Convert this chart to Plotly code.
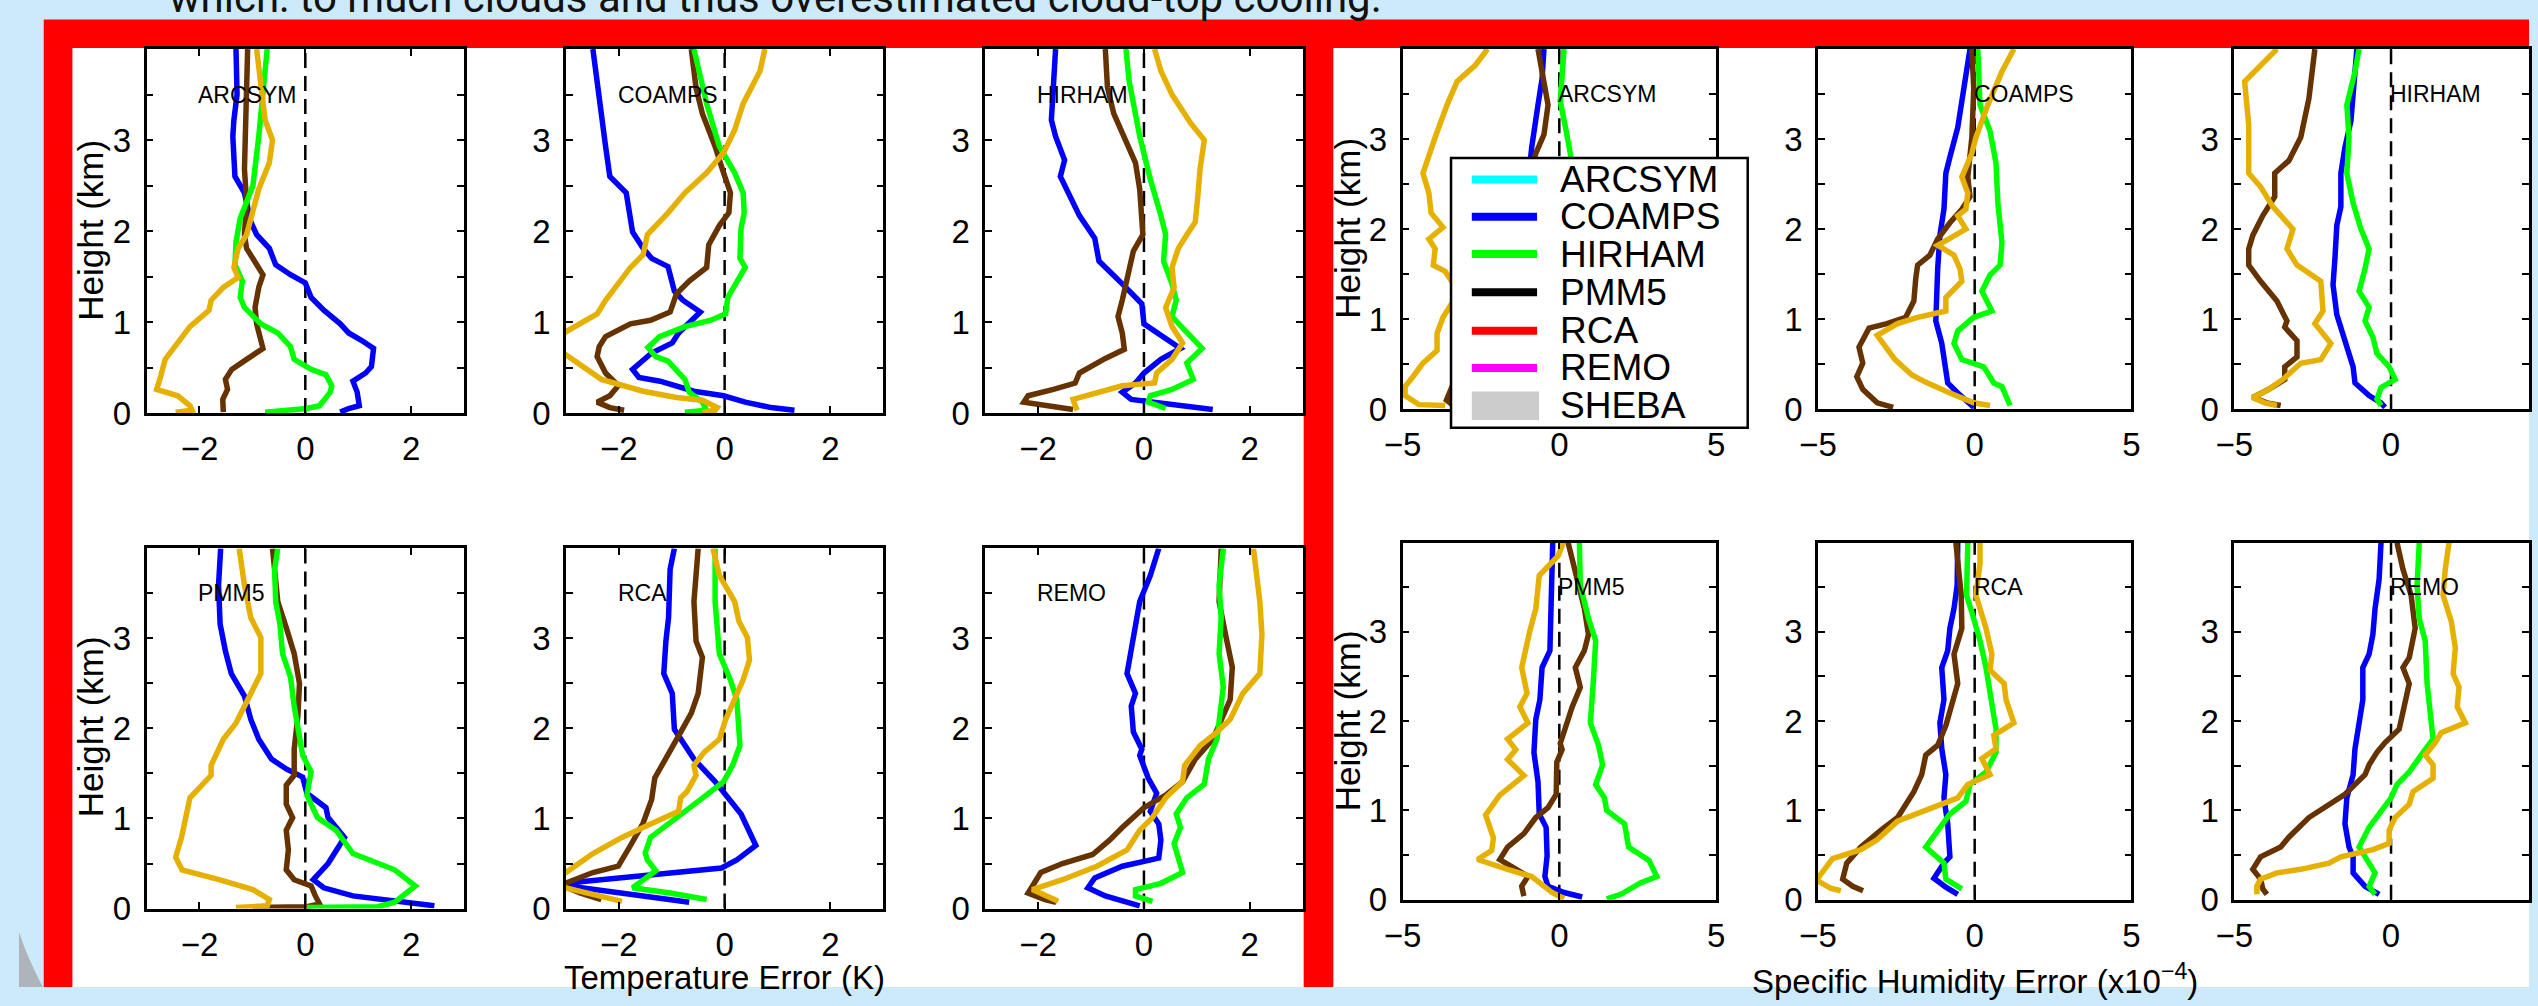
import plotly.graph_objects as go

W, H = 2538, 1006
FONT = "Liberation Sans, Arial, Helvetica, sans-serif"

# ---------------- data ----------------
panel_names_top = ["ARCSYM", "COAMPS", "HIRHAM"]
panel_names_bottom = ["PMM5", "RCA", "REMO"]
series_names = ["blue", "brown", "green", "gold"]
series_colors = ["#0000FF", "#663300", "#00FF00", "#E6B000"]

height_ticks = [0, 0.5, 1, 1.5, 2, 2.5, 3, 3.5]
height_ticktext = ["0", " ", "1", " ", "2", " ", "3", " "]
temp_ticks = [-2, 0, 2]
hum_ticks = [-5, 0, 5]

legend_names = ["ARCSYM", "COAMPS", "HIRHAM", "PMM5", "RCA", "REMO", "SHEBA"]
legend_colors = ["#00FFFF", "#0000FF", "#00FF00", "#000000", "#FF0000", "#FF00FF", "#CCCCCC"]

# Temperature error (K) profiles, (error, height km)
temp_arcsym_blue = [(-1.31,4.0),(-1.29,3.5),(-1.35,3.22),(-1.37,3.04),(-1.33,2.6),(-1.15,2.42),(-1.03,2.1),(-0.92,1.96),(-0.68,1.81),(-0.56,1.63),(-0.28,1.52),(0.0,1.43),(0.11,1.27),(0.35,1.13),(0.66,0.98),(0.82,0.88),(1.06,0.8),(1.29,0.71),(1.25,0.51),(1.14,0.44),(0.9,0.35),(0.98,0.23),(1.02,0.08),(0.82,0.05),(0.66,0.01)]
temp_arcsym_brown = [(-1.09,4.0),(-1.11,3.4),(-1.15,2.68),(-1.11,2.32),(-1.15,1.96),(-1.11,1.81),(-0.95,1.67),(-0.8,1.52),(-0.88,1.38),(-0.95,1.16),(-0.92,0.98),(-0.88,0.88),(-0.8,0.71),(-1.11,0.59),(-1.39,0.48),(-1.51,0.37),(-1.47,0.26),(-1.56,0.15),(-1.55,0.01)]
temp_arcsym_green = [(-0.72,4.0),(-0.8,3.5),(-0.88,3.04),(-0.99,2.5),(-1.11,2.32),(-1.23,2.14),(-1.31,1.88),(-1.33,1.63),(-1.19,1.45),(-1.23,1.27),(-1.15,1.16),(-0.84,0.98),(-0.52,0.88),(-0.28,0.73),(-0.21,0.59),(0.11,0.48),(0.39,0.42),(0.5,0.3),(0.47,0.23),(0.27,0.08),(0.03,0.05),(-0.36,0.03),(-0.76,0.01)]
temp_arcsym_gold = [(-0.92,4.0),(-0.84,3.58),(-0.76,3.22),(-0.62,3.0),(-0.68,2.75),(-0.88,2.46),(-0.99,2.24),(-1.11,1.96),(-1.27,1.81),(-1.35,1.6),(-1.27,1.49),(-1.55,1.38),(-1.78,1.24),(-1.82,1.13),(-2.18,0.95),(-2.41,0.77),(-2.65,0.59),(-2.73,0.41),(-2.81,0.26),(-2.41,0.19),(-2.18,0.08),(-2.14,0.03),(-2.45,0.01)]

temp_coamps_blue = [(-2.49,4.0),(-2.37,3.4),(-2.25,2.93),(-2.17,2.6),(-1.86,2.42),(-1.74,1.99),(-1.54,1.81),(-1.38,1.7),(-1.07,1.61),(-0.95,1.34),(-0.79,1.24),(-0.46,1.11),(-0.87,0.88),(-0.99,0.77),(-1.38,0.66),(-1.74,0.48),(-1.62,0.39),(-1.22,0.35),(-0.58,0.24),(-0.02,0.19),(0.39,0.12),(0.88,0.06),(1.32,0.03)]
temp_coamps_brown = [(-0.63,4.0),(-0.54,3.57),(-0.42,3.29),(-0.18,2.93),(-0.02,2.64),(0.11,2.42),(0.08,2.2),(-0.1,2.06),(-0.3,1.85),(-0.34,1.6),(-0.67,1.45),(-0.91,1.31),(-1.03,1.11),(-1.4,1.02),(-1.78,0.98),(-2.25,0.84),(-2.37,0.73),(-2.41,0.62),(-2.25,0.44),(-2.01,0.3),(-2.17,0.19),(-2.41,0.12),(-2.17,0.06),(-1.9,0.03)]
temp_coamps_green = [(-0.58,4.0),(-0.34,3.4),(-0.1,2.93),(0.19,2.64),(0.35,2.42),(0.37,2.2),(0.31,2.03),(0.29,1.7),(0.39,1.6),(0.23,1.45),(0.06,1.27),(0.02,1.09),(-0.26,1.02),(-0.75,0.95),(-1.23,0.84),(-1.45,0.72),(-1.3,0.62),(-1.07,0.57),(-0.91,0.48),(-0.75,0.37),(-0.67,0.23),(-0.58,0.19),(-0.42,0.12),(-0.34,0.03),(-0.75,0.01)]
temp_coamps_gold = [(0.76,4.0),(0.67,3.76),(0.35,3.4),(0.19,3.11),(-0.02,2.86),(-0.34,2.64),(-0.75,2.42),(-1.07,2.2),(-1.46,1.96),(-1.54,1.74),(-1.78,1.6),(-2.25,1.24),(-2.41,1.09),(-3.0,0.88),(-3.4,0.76),(-3.0,0.64),(-2.33,0.37),(-1.54,0.24),(-0.91,0.17),(-0.42,0.14),(-0.14,0.06),(-0.18,0.03),(-0.42,0.01)]

temp_hirham_blue = [(-1.67,4.0),(-1.71,3.58),(-1.75,3.22),(-1.67,3.04),(-1.5,2.78),(-1.58,2.6),(-1.42,2.42),(-1.22,2.17),(-0.93,1.92),(-0.85,1.67),(-0.41,1.42),(-0.04,1.2),(0.0,0.98),(0.24,0.88),(0.69,0.71),(0.32,0.59),(0.0,0.44),(-0.16,0.33),(-0.41,0.23),(-0.24,0.15),(0.41,0.1),(1.3,0.04)]
temp_hirham_brown = [(-0.73,4.0),(-0.69,3.58),(-0.57,3.29),(-0.37,3.04),(-0.16,2.75),(-0.08,2.46),(-0.04,2.14),(-0.02,1.96),(-0.2,1.78),(-0.32,1.45),(-0.41,1.24),(-0.49,1.06),(-0.41,0.88),(-0.37,0.7),(-0.73,0.6),(-1.22,0.44),(-1.3,0.33),(-1.71,0.26),(-2.19,0.19),(-2.27,0.12),(-1.87,0.08),(-1.34,0.04)]
temp_hirham_green = [(-0.34,4.0),(-0.28,3.65),(-0.08,3.04),(0.12,2.57),(0.32,2.17),(0.41,1.96),(0.37,1.67),(0.53,1.42),(0.61,1.24),(0.53,1.06),(0.77,0.91),(1.1,0.71),(0.81,0.55),(0.93,0.37),(0.53,0.26),(0.12,0.19),(0.08,0.12),(0.41,0.05)]
temp_hirham_gold = [(0.2,4.0),(0.32,3.76),(0.53,3.5),(0.89,3.18),(1.14,3.0),(1.06,2.68),(1.02,2.39),(0.97,2.1),(0.81,1.96),(0.65,1.81),(0.53,1.6),(0.57,1.38),(0.41,1.16),(0.53,0.95),(0.73,0.77),(0.53,0.59),(0.24,0.44),(0.2,0.33),(-0.41,0.3),(-0.89,0.23),(-1.34,0.15),(-1.3,0.08),(-1.26,0.03)]

temp_pmm5_blue = [(-1.6,4.0),(-1.64,3.59),(-1.61,3.16),(-1.51,2.86),(-1.4,2.61),(-1.15,2.36),(-1.03,2.1),(-0.88,1.88),(-0.64,1.66),(-0.36,1.55),(-0.05,1.46),(0.03,1.28),(0.39,1.12),(0.43,1.01),(0.74,0.79),(0.58,0.65),(0.43,0.5),(0.15,0.32),(0.35,0.23),(0.9,0.14),(1.45,0.1),(2.44,0.03)]
temp_pmm5_brown = [(-0.62,4.0),(-0.52,3.41),(-0.36,3.12),(-0.21,2.83),(-0.11,2.5),(-0.14,2.14),(-0.21,1.77),(-0.21,1.48),(-0.36,1.37),(-0.36,1.16),(-0.24,1.01),(-0.36,0.87),(-0.32,0.65),(-0.36,0.43),(-0.21,0.32),(0.11,0.25),(0.19,0.14),(0.27,0.05),(0.03,0.02),(-0.99,0.01)]
temp_pmm5_green = [(-0.52,4.0),(-0.58,3.77),(-0.56,3.41),(-0.48,3.16),(-0.43,2.83),(-0.28,2.57),(-0.21,2.25),(-0.13,1.96),(-0.05,1.7),(0.11,1.52),(0.03,1.26),(0.23,1.01),(0.58,0.87),(0.9,0.61),(1.37,0.5),(1.69,0.43),(2.08,0.25),(1.69,0.07),(1.37,0.02),(0.03,0.01)]
temp_pmm5_gold = [(-1.25,4.0),(-1.15,3.59),(-1.03,3.23),(-0.84,3.01),(-0.84,2.61),(-1.03,2.39),(-1.31,2.06),(-1.55,1.88),(-1.78,1.59),(-1.78,1.48),(-2.18,1.23),(-2.26,1.01),(-2.34,0.79),(-2.45,0.57),(-2.33,0.43),(-1.63,0.32),(-0.99,0.21),(-0.68,0.1),(-0.72,0.03),(-1.31,0.01)]

temp_rca_blue = [(-0.95,4.0),(-1.03,3.77),(-1.06,3.23),(-1.11,2.97),(-1.15,2.61),(-0.99,2.39),(-0.95,1.99),(-0.58,1.66),(-0.18,1.41),(0.02,1.26),(0.31,1.05),(0.59,0.7),(0.23,0.54),(-0.06,0.45),(-1.4,0.37),(-3.2,0.27),(-1.54,0.14),(-0.67,0.07)]
temp_rca_brown = [(-0.5,4.0),(-0.58,3.41),(-0.54,2.97),(-0.42,2.79),(-0.5,2.39),(-0.63,2.17),(-0.83,1.96),(-1.07,1.7),(-1.32,1.45),(-1.38,1.21),(-1.54,0.95),(-1.78,0.7),(-2.01,0.47),(-2.49,0.4),(-3.1,0.26),(-2.72,0.17),(-2.33,0.1)]
temp_rca_green = [(-0.18,4.0),(-0.18,3.41),(-0.1,2.83),(0.11,2.54),(0.23,2.32),(0.27,2.03),(0.29,1.81),(0.15,1.59),(-0.02,1.41),(-0.5,1.19),(-0.91,1.01),(-1.4,0.79),(-1.5,0.62),(-1.46,0.54),(-1.3,0.42),(-1.74,0.23),(-1.0,0.17),(-0.34,0.1)]
temp_rca_gold = [(-0.22,4.0),(-0.1,3.7),(0.19,3.41),(0.27,3.19),(0.43,3.01),(0.47,2.76),(0.35,2.54),(0.19,2.32),(0.02,2.1),(-0.1,1.88),(-0.38,1.74),(-0.58,1.59),(-0.54,1.48),(-0.71,1.3),(-0.83,1.23),(-0.87,1.08),(-1.15,1.01),(-1.4,0.94),(-1.94,0.79),(-2.49,0.61),(-3.0,0.4),(-3.3,0.32),(-3.0,0.23),(-1.94,0.08)]

temp_remo_blue = [(0.28,4.0),(0.12,3.7),(-0.08,3.41),(-0.16,3.16),(-0.24,2.9),(-0.32,2.61),(-0.16,2.39),(-0.24,2.25),(-0.2,1.96),(-0.04,1.77),(-0.08,1.7),(0.08,1.45),(0.24,1.28),(0.12,1.08),(0.28,0.94),(0.32,0.76),(0.28,0.56),(-0.41,0.47),(-0.93,0.34),(-1.06,0.23),(-0.73,0.14),(-0.32,0.08),(-0.08,0.03)]
temp_remo_brown = [(1.46,4.0),(1.43,3.6),(1.42,3.41),(1.54,3.05),(1.67,2.68),(1.63,2.32),(1.3,1.88),(0.97,1.66),(0.73,1.41),(0.41,1.26),(0.0,1.12),(-0.41,0.9),(-0.65,0.76),(-0.97,0.6),(-1.54,0.5),(-1.95,0.4),(-2.19,0.17),(-1.87,0.1),(-1.66,0.07)]
temp_remo_green = [(1.5,4.0),(1.42,3.59),(1.46,3.23),(1.42,2.83),(1.5,2.46),(1.42,2.1),(1.38,1.88),(1.22,1.66),(1.14,1.38),(0.81,1.23),(0.61,1.05),(0.69,0.9),(0.57,0.72),(0.73,0.4),(0.32,0.28),(-0.16,0.21),(-0.16,0.14),(0.16,0.08)]
temp_remo_gold = [(2.07,4.0),(2.19,3.41),(2.23,3.05),(2.19,2.61),(1.87,2.39),(1.63,2.1),(1.38,1.96),(1.06,1.81),(0.77,1.59),(0.73,1.41),(0.41,1.23),(0.16,1.01),(-0.08,0.87),(-0.32,0.65),(-0.89,0.47),(-1.54,0.32),(-2.11,0.21),(-1.87,0.14),(-1.62,0.08)]

# Specific humidity error (x1e-4) profiles, (error, height km)
hum_arcsym_blue = [(-0.49,4.0),(-0.55,3.67),(-0.68,3.38),(-0.88,2.91),(-1.0,2.5),(-1.1,2.0),(-1.2,1.5),(-1.3,1.0),(-1.2,0.5),(-0.8,0.2),(-0.4,0.03)]
hum_arcsym_brown = [(-0.68,4.0),(-0.55,3.75),(-0.36,3.38),(-0.49,3.05),(-0.75,2.84),(-1.2,2.4),(-1.8,1.8),(-2.5,1.2),(-3.0,0.6),(-3.6,0.1),(-3.3,0.02)]
hum_arcsym_green = [(0.15,4.0),(0.03,3.42),(0.22,3.09),(0.35,2.84),(0.5,2.4),(0.7,1.8),(0.6,1.2),(0.9,0.6),(1.2,0.2),(1.0,0.02)]
hum_arcsym_gold = [(-2.29,4.0),(-2.68,3.82),(-3.26,3.64),(-3.58,3.38),(-3.96,3.02),(-4.35,2.62),(-4.16,2.4),(-4.09,2.18),(-3.71,2.02),(-4.16,1.89),(-3.96,1.78),(-4.02,1.6),(-3.64,1.53),(-3.2,1.3),(-3.71,1.02),(-3.9,0.84),(-3.9,0.65),(-4.35,0.51),(-4.67,0.36),(-4.92,0.25),(-4.92,0.15),(-4.48,0.05),(-3.64,0.04)]

hum_coamps_blue = [(-0.15,4.0),(-0.35,3.56),(-0.54,3.13),(-0.79,2.8),(-0.92,2.62),(-0.98,2.22),(-1.11,1.93),(-1.18,1.56),(-1.24,1.2),(-1.24,0.98),(-1.05,0.73),(-0.92,0.47),(-0.86,0.29),(-0.54,0.18),(-0.15,0.07),(-0.03,0.02)]
hum_coamps_brown = [(-0.09,4.0),(-0.03,3.56),(-0.09,3.02),(-0.22,2.58),(-0.15,2.36),(-0.41,2.22),(-0.79,2.07),(-1.18,1.89),(-1.43,1.71),(-1.82,1.6),(-1.88,1.45),(-1.94,1.2),(-2.2,1.02),(-2.8,0.95),(-3.37,0.9),(-3.69,0.69),(-3.57,0.51),(-3.76,0.36),(-3.57,0.22),(-3.37,0.15),(-3.11,0.07),(-2.6,0.02)]
hum_coamps_green = [(0.1,4.0),(0.17,3.38),(0.49,3.09),(0.68,2.73),(0.74,2.29),(0.87,1.85),(0.81,1.6),(0.49,1.49),(0.23,1.31),(0.55,1.09),(-0.03,1.02),(-0.54,0.87),(-0.66,0.73),(-0.41,0.55),(0.29,0.47),(0.61,0.29),(0.87,0.25),(1.13,0.04)]
hum_coamps_gold = [(1.25,4.0),(0.87,3.75),(0.42,3.38),(0.04,3.02),(-0.09,2.84),(-0.41,2.58),(-0.22,2.4),(-0.28,2.22),(-0.54,2.15),(-0.28,2.0),(-1.18,1.82),(-0.66,1.71),(-0.47,1.56),(-0.41,1.42),(-0.92,1.24),(-0.92,1.09),(-1.82,1.02),(-2.46,0.95),(-3.11,0.82),(-2.54,0.55),(-2.0,0.38),(-1.57,0.3),(-0.79,0.18),(-0.03,0.07),(0.49,0.04)]

hum_hirham_blue = [(-1.09,4.0),(-1.21,3.56),(-1.28,3.2),(-1.47,2.91),(-1.6,2.62),(-1.6,2.25),(-1.73,2.04),(-1.79,1.67),(-1.85,1.38),(-1.73,1.05),(-1.47,0.76),(-1.21,0.47),(-1.15,0.29),(-0.7,0.15),(-0.32,0.07),(-0.19,0.02)]
hum_hirham_brown = [(-2.43,4.0),(-2.62,3.45),(-2.88,3.02),(-3.26,2.76),(-3.71,2.62),(-3.71,2.36),(-4.09,2.15),(-4.41,1.93),(-4.54,1.78),(-4.54,1.6),(-4.16,1.42),(-3.64,1.2),(-3.32,0.98),(-3.39,0.91),(-3.0,0.76),(-3.0,0.58),(-3.39,0.47),(-3.39,0.33),(-3.9,0.22),(-4.41,0.13),(-3.96,0.07),(-3.52,0.04)]
hum_hirham_green = [(-1.02,4.0),(-1.15,3.75),(-1.41,3.38),(-1.34,3.02),(-1.41,2.62),(-1.21,2.29),(-0.96,2.0),(-0.7,1.78),(-0.83,1.56),(-1.02,1.31),(-0.7,1.13),(-0.83,0.98),(-0.58,0.8),(-0.45,0.62),(-0.06,0.47),(0.13,0.33),(-0.32,0.24),(-0.45,0.11),(-0.32,0.04)]
hum_hirham_gold = [(-3.64,4.0),(-4.16,3.82),(-4.67,3.64),(-4.54,3.16),(-4.54,2.62),(-4.16,2.47),(-3.77,2.25),(-3.13,2.0),(-3.32,1.78),(-3.0,1.6),(-2.24,1.42),(-2.17,1.09),(-2.43,0.95),(-1.92,0.73),(-2.24,0.55),(-2.88,0.51),(-3.45,0.33),(-3.9,0.22),(-4.41,0.13),(-4.03,0.07),(-3.64,0.04)]

hum_pmm5_blue = [(-0.21,4.0),(-0.23,3.7),(-0.26,3.15),(-0.3,2.79),(-0.55,2.6),(-0.62,2.24),(-0.75,2.02),(-0.81,1.65),(-0.68,1.32),(-0.64,0.96),(-0.42,0.81),(-0.39,0.49),(-0.46,0.26),(-0.36,0.15),(0.15,0.08),(0.73,0.03)]
hum_pmm5_brown = [(0.28,4.0),(0.48,3.7),(0.8,3.26),(0.93,2.97),(0.8,2.79),(0.51,2.6),(0.67,2.38),(0.41,2.16),(0.22,1.94),(0.03,1.75),(0.09,1.68),(-0.08,1.54),(-0.1,1.18),(-0.36,1.03),(-0.75,0.92),(-1.13,0.74),(-1.65,0.59),(-1.9,0.45),(-1.52,0.37),(-1.0,0.26),(-1.2,0.15),(-1.13,0.04)]
hum_pmm5_green = [(0.64,4.0),(0.67,3.52),(0.93,3.15),(1.16,2.9),(1.08,2.42),(0.99,1.98),(1.25,1.73),(1.38,1.51),(1.16,1.29),(1.44,1.14),(1.51,1.0),(2.08,0.85),(2.21,0.59),(2.86,0.44),(3.11,0.26),(2.6,0.19),(1.96,0.06),(1.51,0.01)]
hum_pmm5_gold = [(0.13,4.0),(-0.04,3.85),(-0.64,3.63),(-0.75,3.26),(-0.94,3.01),(-1.2,2.6),(-1.03,2.31),(-1.26,2.16),(-1.0,1.98),(-1.65,1.8),(-1.39,1.68),(-1.65,1.57),(-1.13,1.39),(-1.9,1.17),(-2.35,0.95),(-2.1,0.69),(-2.16,0.55),(-2.61,0.45),(-1.65,0.34),(-0.88,0.26),(-0.23,0.08),(0.15,0.01)]

hum_rca_blue = [(-0.54,4.0),(-0.56,3.52),(-0.66,3.26),(-0.79,3.04),(-0.86,2.79),(-1.05,2.6),(-0.98,2.24),(-1.11,1.98),(-1.05,1.69),(-0.92,1.4),(-0.98,1.14),(-0.86,0.85),(-0.79,0.48),(-0.98,0.41),(-1.3,0.24),(-0.92,0.14),(-0.54,0.06)]
hum_rca_brown = [(-0.6,4.0),(-0.43,3.41),(-0.41,3.04),(-0.66,2.75),(-0.54,2.42),(-0.92,1.95),(-1.18,1.73),(-1.56,1.62),(-1.69,1.4),(-1.94,1.21),(-2.46,0.92),(-2.99,0.78),(-3.63,0.59),(-4.08,0.41),(-4.21,0.23),(-3.89,0.15),(-3.56,0.1)]
hum_rca_green = [(-0.22,4.0),(-0.26,3.41),(-0.09,3.22),(0.17,2.9),(0.36,2.6),(0.55,2.24),(0.68,1.91),(0.68,1.65),(0.36,1.43),(-0.15,1.29),(-0.28,1.1),(-0.79,0.96),(-1.18,0.78),(-1.56,0.59),(-0.98,0.41),(-0.92,0.23),(-0.41,0.12)]
hum_rca_gold = [(0.17,4.0),(0.17,3.77),(0.04,3.41),(0.36,3.04),(0.55,2.75),(0.49,2.57),(0.94,2.42),(1.0,2.24),(1.25,1.98),(0.61,1.84),(0.68,1.69),(0.23,1.58),(0.49,1.4),(-0.22,1.29),(-0.54,1.14),(-1.05,1.07),(-1.69,0.99),(-2.46,0.88),(-3.11,0.67),(-3.63,0.56),(-4.53,0.46),(-4.9,0.3),(-5.05,0.22),(-4.6,0.13),(-4.27,0.1)]

hum_remo_blue = [(-0.32,4.0),(-0.38,3.59),(-0.51,3.26),(-0.58,2.97),(-0.7,2.75),(-0.9,2.6),(-0.9,2.24),(-1.02,1.98),(-1.15,1.69),(-1.21,1.4),(-1.41,1.14),(-1.47,0.85),(-1.34,0.59),(-1.21,0.48),(-1.21,0.3),(-0.83,0.15),(-0.38,0.06)]
hum_remo_brown = [(0.19,4.0),(0.38,3.7),(0.64,3.41),(0.77,3.04),(0.58,2.71),(0.38,2.6),(0.58,2.42),(0.38,2.05),(0.26,1.91),(-0.19,1.76),(-0.45,1.65),(-0.7,1.51),(-0.83,1.4),(-1.47,1.18),(-2.11,1.03),(-2.62,0.92),(-3.26,0.7),(-3.52,0.59),(-4.16,0.48),(-4.41,0.34),(-4.16,0.23),(-4.09,0.12),(-3.96,0.06)]
hum_remo_green = [(0.9,4.0),(0.83,3.52),(0.9,3.15),(1.09,2.9),(1.15,2.42),(1.28,2.02),(1.34,1.8),(0.96,1.62),(0.58,1.43),(0.19,1.29),(0.0,1.14),(-0.32,0.99),(-0.7,0.81),(-1.02,0.59),(-0.77,0.45),(-0.51,0.3),(-0.7,0.15),(-0.51,0.06)]
hum_remo_gold = [(1.85,4.0),(1.73,3.7),(1.66,3.41),(1.92,3.12),(2.05,2.82),(1.98,2.53),(2.17,2.38),(2.11,2.16),(2.37,1.98),(1.6,1.87),(1.41,1.76),(1.09,1.62),(1.34,1.51),(1.34,1.36),(0.7,1.21),(0.58,1.07),(0.13,0.92),(-0.06,0.78),(-0.06,0.63),(-0.58,0.56),(-1.6,0.48),(-1.98,0.41),(-2.88,0.34),(-3.64,0.3),(-4.16,0.23),(-4.28,0.15),(-4.28,0.06)]

# ---------------- layout helpers ----------------
def fx(px):
    return px / W

def fy(py):
    return 1 - py / H

temp_cols = [(129, 450), (553, 874), (977, 1298)]
temp_rows = [(50, 421), (559, 926)]
hum_cols = [(1399, 1716), (1819, 2136), (2240, 2557)]
hum_rows = [(50, 417), (553, 917)]

panels = [
    ("temp", 0, 0, "ARCSYM", [temp_arcsym_blue, temp_arcsym_brown, temp_arcsym_green, temp_arcsym_gold]),
    ("temp", 0, 1, "COAMPS", [temp_coamps_blue, temp_coamps_brown, temp_coamps_green, temp_coamps_gold]),
    ("temp", 0, 2, "HIRHAM", [temp_hirham_blue, temp_hirham_brown, temp_hirham_green, temp_hirham_gold]),
    ("temp", 1, 0, "PMM5", [temp_pmm5_blue, temp_pmm5_brown, temp_pmm5_green, temp_pmm5_gold]),
    ("temp", 1, 1, "RCA", [temp_rca_blue, temp_rca_brown, temp_rca_green, temp_rca_gold]),
    ("temp", 1, 2, "REMO", [temp_remo_blue, temp_remo_brown, temp_remo_green, temp_remo_gold]),
    ("hum", 0, 0, "ARCSYM", [hum_arcsym_blue, hum_arcsym_brown, hum_arcsym_green, hum_arcsym_gold]),
    ("hum", 0, 1, "COAMPS", [hum_coamps_blue, hum_coamps_brown, hum_coamps_green, hum_coamps_gold]),
    ("hum", 0, 2, "HIRHAM", [hum_hirham_blue, hum_hirham_brown, hum_hirham_green, hum_hirham_gold]),
    ("hum", 1, 0, "PMM5", [hum_pmm5_blue, hum_pmm5_brown, hum_pmm5_green, hum_pmm5_gold]),
    ("hum", 1, 1, "RCA", [hum_rca_blue, hum_rca_brown, hum_rca_green, hum_rca_gold]),
    ("hum", 1, 2, "REMO", [hum_remo_blue, hum_remo_brown, hum_remo_green, hum_remo_gold]),
]

fig = go.Figure()
layout = dict(
    width=W, height=H, autosize=False,
    margin=dict(l=0, r=0, t=0, b=0, pad=0),
    paper_bgcolor="#CDEAFA", plot_bgcolor="white",
    showlegend=False,
    font=dict(family=FONT, color="black"),
)
annotations = []
shapes = []

for i, (kind, r, c, name, series) in enumerate(panels, start=1):
    s = "" if i == 1 else str(i)
    if kind == "temp":
        x0, x1 = temp_cols[c]
        y0, y1 = temp_rows[r]
        xr = [-3, 3]
        xt = temp_ticks
        lab_x = -2
    else:
        x0, x1 = hum_cols[c]
        y0, y1 = hum_rows[r]
        xr = [-5, 5]
        xt = hum_ticks
        lab_x = 0
    dom_x1 = min(x1, W)
    if dom_x1 < x1:
        xr = [xr[0], xr[0] + (xr[1] - xr[0]) * (dom_x1 - x0) / (x1 - x0)]
    layout["xaxis" + s] = dict(
        domain=[fx(x0), fx(dom_x1)], range=xr, anchor="y" + s,
        tickmode="array", tickvals=xt,
        ticks="inside", ticklen=7, tickwidth=2, tickcolor="black",
        showline=True, linewidth=2.5, linecolor="black", mirror="ticks",
        showgrid=False, zeroline=False,
        tickfont=dict(size=33, family=FONT, color="black"),
        ticklabelstandoff=5,
    )
    layout["yaxis" + s] = dict(
        domain=[fy(y1), fy(y0)], range=[0, 4], anchor="x" + s,
        tickmode="array", tickvals=height_ticks, ticktext=height_ticktext,
        ticks="inside", ticklen=7, tickwidth=2, tickcolor="black",
        showline=True, linewidth=2.5, linecolor="black", mirror="ticks",
        showgrid=False, zeroline=False,
        tickfont=dict(size=33, family=FONT, color="black"),
        ticklabelstandoff=6,
    )
    # dashed zero reference
    fig.add_trace(go.Scatter(
        x=[0, 0], y=[0, 4], mode="lines",
        line=dict(color="black", width=2.5, dash="15px,8px"),
        xaxis="x" + s, yaxis="y" + s, hoverinfo="skip", showlegend=False))
    for nm, col, pts in zip(series_names, series_colors, series):
        fig.add_trace(go.Scatter(
            x=[p[0] for p in pts], y=[p[1] for p in pts], mode="lines",
            name=nm, line=dict(color=col, width=5.5),
            xaxis="x" + s, yaxis="y" + s, showlegend=False))
    annotations.append(dict(
        x=lab_x, y=3.5, xref="x" + s, yref="y" + s, text=name,
        showarrow=False, xanchor="left", yanchor="middle", xshift=-3,
        font=dict(size=23, family=FONT, color="black")))

# axis titles
for (px, py) in [(72, 235), (72, 741), (1343, 233), (1343, 735)]:
    annotations.append(dict(
        x=fx(px), y=fy(py), xref="paper", yref="paper", text="Height (km)",
        textangle=-90, showarrow=False, xanchor="center", yanchor="middle",
        font=dict(size=35, family=FONT, color="black")))
annotations.append(dict(
    x=fx(713), y=fy(996), xref="paper", yref="paper", text="Temperature Error (K)",
    showarrow=False, xanchor="center", yanchor="middle",
    font=dict(size=33, family=FONT, color="black")))
annotations.append(dict(
    x=fx(1978), y=fy(998), xref="paper", yref="paper",
    text="Specific Humidity Error (x10<sup>\u22124</sup>)",
    showarrow=False, xanchor="center", yanchor="middle",
    font=dict(size=33, family=FONT, color="black")))

# top slide text (partly cut off by the page edge)
annotations.append(dict(
    x=fx(150), y=fy(-3), xref="paper", yref="paper",
    text="which: to much clouds and thus overestimated cloud-top cooling.",
    showarrow=False, xanchor="left", yanchor="middle",
    font=dict(size=42, family="Roboto, Open Sans, sans-serif", color="#111111")))

# slide panels
shapes.append(dict(type="rect", xref="paper", yref="paper", layer="below",
                   x0=fx(25), x1=1.0, y0=0, y1=fy(20),
                   fillcolor="#FF0000", line=dict(width=0)))
shapes.append(dict(type="rect", xref="paper", yref="paper", layer="below",
                   x0=fx(54), x1=fx(1299), y0=0, y1=fy(49),
                   fillcolor="white", line=dict(width=0)))
shapes.append(dict(type="rect", xref="paper", yref="paper", layer="below",
                   x0=fx(1329), x1=1.0, y0=0, y1=fy(49),
                   fillcolor="white", line=dict(width=0)))
shapes.append(dict(type="path", xref="paper", yref="paper", layer="below",
                   path="M 0,{a} Q {b},{c} {d},0 L 0,0 Z".format(
                       a=fy(950), b=fx(8), c=fy(975), d=fx(24)),
                   fillcolor="#AEB4BA", line=dict(width=0)))

# legend box
lg_x0, lg_x1, lg_y0, lg_y1 = 1448, 1748, 161, 436
shapes.append(dict(type="rect", xref="paper", yref="paper", layer="above",
                   x0=fx(lg_x0), x1=fx(lg_x1), y0=fy(lg_y1), y1=fy(lg_y0),
                   fillcolor="white", line=dict(color="black", width=2.5)))
row_y = [183, 221, 259, 298, 337, 375, 413]
for nm, col, ry in zip(legend_names, legend_colors, row_y):
    if nm == "SHEBA":
        shapes.append(dict(type="rect", xref="paper", yref="paper", layer="above",
                           x0=fx(1469), x1=fx(1537), y0=fy(ry + 15), y1=fy(ry - 14),
                           fillcolor=col, line=dict(width=0)))
    else:
        shapes.append(dict(type="line", xref="paper", yref="paper", layer="above",
                           x0=fx(1469), x1=fx(1535), y0=fy(ry), y1=fy(ry),
                           line=dict(color=col, width=8)))
    annotations.append(dict(
        x=fx(1556), y=fy(ry), xref="paper", yref="paper", text=nm,
        showarrow=False, xanchor="left", yanchor="middle",
        font=dict(size=37, family=FONT, color="black")))

layout["annotations"] = annotations
layout["shapes"] = shapes
fig.update_layout(**layout)
fig.write_html("out.html")
